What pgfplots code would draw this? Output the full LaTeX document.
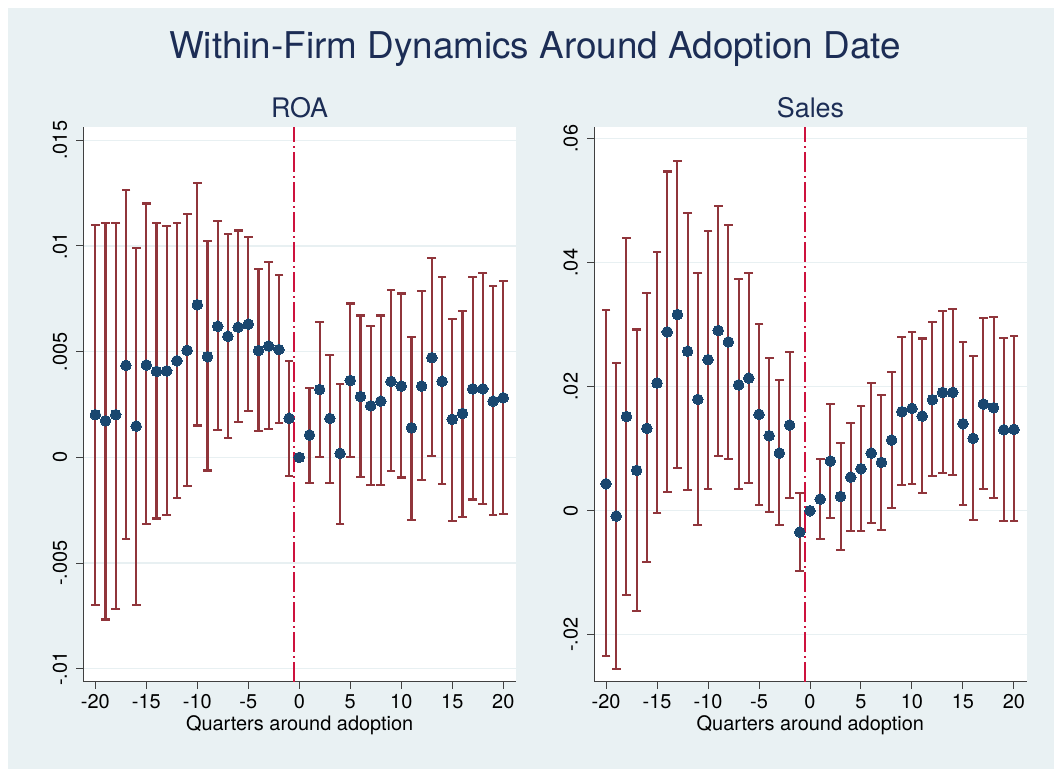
\documentclass[border=0pt]{standalone}
\usepackage{pgfplots}
\pgfplotsset{compat=1.18}
\usepackage{pgfplotstable}
\usepackage{fontspec}
\setmainfont{TeX Gyre Heros}
\definecolor{bgc}{RGB}{233,241,243}
\definecolor{navyc}{RGB}{26,71,111}
\definecolor{maroonc}{RGB}{144,53,59}
\definecolor{crimc}{RGB}{205,18,62}
\definecolor{titlec}{RGB}{28,45,85}
\definecolor{gridc}{RGB}{232,240,242}

\pgfplotstableread{
x y lo hi
-20 0.00202 -0.00699 0.01098
-19 0.00173 -0.00767 0.01109
-18 0.00202 -0.00716 0.01109
-17 0.00435 -0.00385 0.01263
-16 0.00148 -0.00699 0.00991
-15 0.00437 -0.00317 0.01201
-14 0.00407 -0.00289 0.01109
-13 0.00409 -0.00273 0.01095
-12 0.00457 -0.00191 0.01109
-11 0.00506 -0.00134 0.01150
-10 0.00722 0.00151 0.01296
-9 0.00476 -0.00062 0.01022
-8 0.00620 0.00128 0.01119
-7 0.00573 0.00093 0.01057
-6 0.00616 0.00167 0.01073
-5 0.00630 0.00221 0.01041
-4 0.00505 0.00126 0.00889
-3 0.00527 0.00134 0.00924
-2 0.00510 0.00161 0.00864
-1 0.00185 -0.00088 0.00456
0 0 0 0
1 0.00106 -0.00123 0.00329
2 0.00321 0.00000 0.00641
3 0.00184 -0.00120 0.00484
4 0.00019 -0.00315 0.00348
5 0.00364 0.00003 0.00728
6 0.00288 -0.00091 0.00671
7 0.00244 -0.00129 0.00623
8 0.00266 -0.00132 0.00671
9 0.00359 -0.00066 0.00790
10 0.00337 -0.00095 0.00775
11 0.00140 -0.00295 0.00571
12 0.00337 -0.00106 0.00785
13 0.00472 0.00005 0.00943
14 0.00360 -0.00128 0.00854
15 0.00180 -0.00300 0.00655
16 0.00208 -0.00281 0.00693
17 0.00324 -0.00199 0.00854
18 0.00324 -0.00219 0.00873
19 0.00266 -0.00271 0.00809
20 0.00282 -0.00267 0.00835
}\roa

\pgfplotstableread{
x y lo hi
-20 0.00435 -0.02350 0.03231
-19 -0.00086 -0.02548 0.02378
-18 0.01520 -0.01355 0.04402
-17 0.00651 -0.01613 0.02923
-16 0.01328 -0.00833 0.03506
-15 0.02060 -0.00043 0.04175
-14 0.02885 0.00306 0.05471
-13 0.03166 0.00688 0.05644
-12 0.02572 0.00339 0.04802
-11 0.01795 -0.00231 0.03830
-10 0.02437 0.00355 0.04516
-9 0.02907 0.00887 0.04920
-8 0.02723 0.00828 0.04607
-7 0.02030 0.00344 0.03733
-6 0.02140 0.00446 0.03830
-5 0.01555 0.00097 0.03010
-4 0.01210 -0.00027 0.02459
-3 0.00930 -0.00231 0.02103
-2 0.01382 0.00210 0.02567
-1 -0.00344 -0.00978 0.00285
0 0 0 0
1 0.00188 -0.00457 0.00833
2 0.00801 -0.00113 0.01722
3 0.00231 -0.00634 0.01097
4 0.00543 -0.00323 0.01414
5 0.00677 -0.00333 0.01690
6 0.00930 -0.00194 0.02060
7 0.00780 -0.00312 0.01868
8 0.01140 0.00043 0.02243
9 0.01597 0.00409 0.02804
10 0.01650 0.00435 0.02885
11 0.01527 0.00280 0.02777
12 0.01790 0.00554 0.03042
13 0.01909 0.00613 0.03220
14 0.01909 0.00581 0.03247
15 0.01403 0.00086 0.02723
16 0.01167 -0.00156 0.02502
17 0.01720 0.00349 0.03107
18 0.01661 0.00204 0.03123
19 0.01306 -0.00167 0.02783
20 0.01312 -0.00172 0.02815
}\sales

\pgfplotsset{
  panel/.style={
    scale only axis, width=432.7bp, height=555bp,
    xmin=-21.18, xmax=21.25,
    axis x line*=bottom, axis y line*=left,
    axis line style={-, draw=black!75, line width=1bp},
    every tick/.style={draw=black!75, line width=1bp},
    major tick length=7bp, tick align=outside,
    xtick={-20,-15,-10,-5,0,5,10,15,20},
    xticklabels={-20,-15,-10,-5,0,5,10,15,20},
    ymajorgrids, grid style={gridc, line width=1.3bp},
    ticklabel style={font=\fontsize{20}{20}\selectfont, text=black},
    xticklabel style={anchor=base, inner sep=0pt},
    xticklabel shift=20bp,
    yticklabel style={rotate=90, anchor=south, inner sep=0pt},
    yticklabel shift=9bp,
    scaled y ticks=false,
    xlabel={Quarters around adoption},
    xlabel style={font=\fontsize{20}{20}\selectfont, anchor=base, at={(axis description cs:0.5,0)}, yshift=-49bp, inner sep=0pt},
    axis background/.style={fill=white},
  },
  caps/.style={maroonc, line width=2.1bp, only marks, mark=-, mark size=4.4bp},
  bars/.style={maroonc, line width=2.1bp, only marks, mark=none,
    error bars/.cd, y dir=both, y explicit,
    error bar style={draw=maroonc, line width=2.1bp}, error mark=none},
  pts/.style={only marks, mark=*, mark size=5.3bp, mark options={fill=navyc, draw=navyc, line width=0pt}},
}

\begin{document}
\begin{tikzpicture}
\path[use as bounding box, fill=white] (0,0) rectangle (1054bp,-769bp);
\fill[bgc] (8bp,-8bp) rectangle (1054bp,-769bp);

\node[anchor=base, text=titlec, font=\fontsize{37}{40}\selectfont, inner sep=0pt] at (535bp,-58.3bp) {Within-Firm Dynamics Around Adoption Date};
\node[anchor=base, text=titlec, font=\fontsize{27}{30}\selectfont, inner sep=0pt] at (299.5bp,-117.3bp) {ROA};
\node[anchor=base, text=titlec, font=\fontsize{27}{30}\selectfont, inner sep=0pt] at (810.5bp,-117.3bp) {Sales};

\begin{axis}[panel, at={(83.3bp,-681.7bp)}, anchor=south west,
  ymin=-0.01061, ymax=0.01564,
  ytick={-0.01,-0.005,0,0.005,0.01,0.015},
  yticklabels={-.01,-.005,0,.005,.01,.015}]
\addplot[crimc, line width=1.5bp, dash pattern=on 20bp off 4bp on 1.5bp off 4.5bp] coordinates {(-0.5,-0.01061) (-0.5,0.01564)};
\addplot[caps] table[x=x, y=hi, skip coords between index={20}{21}] {\roa};
\addplot[caps] table[x=x, y=lo, skip coords between index={20}{21}] {\roa};
\addplot[bars] table[x=x, y=y, y error plus expr=\thisrow{hi}-\thisrow{y}, y error minus expr=\thisrow{y}-\thisrow{lo}, skip coords between index={20}{21}] {\roa};
\addplot[pts] table[x=x, y=y] {\roa};
\end{axis}

\begin{axis}[panel, at={(594bp,-681.7bp)}, anchor=south west,
  ymin=-0.02758, ymax=0.06194,
  ytick={-0.02,0,0.02,0.04,0.06},
  yticklabels={-.02,0,.02,.04,.06}]
\addplot[crimc, line width=1.5bp, dash pattern=on 20bp off 4bp on 1.5bp off 4.5bp] coordinates {(-0.5,-0.02758) (-0.5,0.06194)};
\addplot[caps] table[x=x, y=hi, skip coords between index={20}{21}] {\sales};
\addplot[caps] table[x=x, y=lo, skip coords between index={20}{21}] {\sales};
\addplot[bars] table[x=x, y=y, y error plus expr=\thisrow{hi}-\thisrow{y}, y error minus expr=\thisrow{y}-\thisrow{lo}, skip coords between index={20}{21}] {\sales};
\addplot[pts] table[x=x, y=y] {\sales};
\end{axis}
\end{tikzpicture}
\end{document}
